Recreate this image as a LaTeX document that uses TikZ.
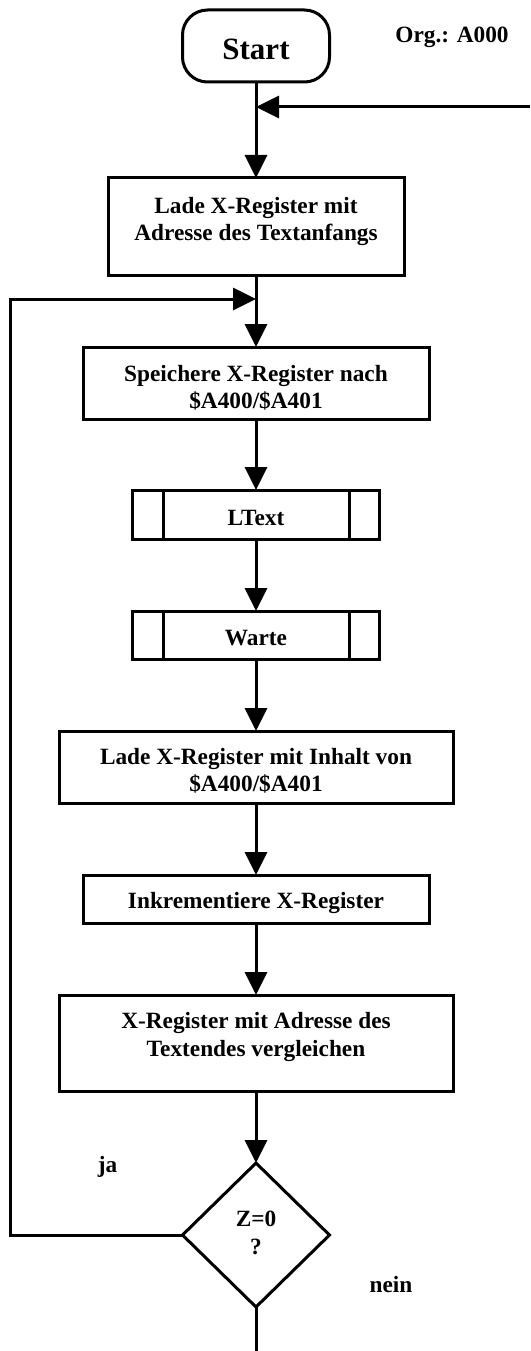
\documentclass[tikz,border=0pt]{standalone}
\usepackage{fontspec}
\setmainfont{Liberation Serif}
\usetikzlibrary{arrows.meta,shapes.geometric}
\begin{document}
\begin{tikzpicture}[x=1pt,y=1pt,
  every node/.style={font=\fontsize{23.3}{27.5}\selectfont\bfseries},
  box/.style={draw,line width=3pt,rectangle,inner sep=0pt,outer sep=0pt},
  txt/.style={align=center,inner sep=0pt},
  ln/.style={line width=3pt},
  arr/.style={line width=3pt,-{Triangle[length=23pt,width=22pt]}}
]
\useasboundingbox (0,0) rectangle (530,-1351);
\node[box, rounded corners=25pt, minimum width=147pt, minimum height=72pt] (start) at (256,-46) {};
\node[txt, font=\fontsize{31}{36}\selectfont\bfseries, anchor=base] (tstart) at (256,-60) {Start};
\node[txt, anchor=base] (org) at (452,-42.7) {Org.: A000};
\coordinate (rin) at (530,-107);
\node[box, minimum width=296pt, minimum height=97pt] (b1) at (256,-226.5) {};
\node[txt] (t1) at (256,-221.5) {Lade X-Register mit\\Adresse des Textanfangs};
\coordinate (lc) at (10,-299);
\node[box, minimum width=346pt, minimum height=72pt] (b2) at (256,-383) {};
\node[txt] (t2) at (256,-387.8) {Speichere X-Register nach\\\$A400/\$A401};
\node[box, minimum width=247pt, minimum height=49pt] (lt) at (256,-514.5) {};
\node[txt, anchor=base] (tlt) at (256,-525) {LText};
\node[box, minimum width=247pt, minimum height=48pt] (wa) at (256,-635) {};
\node[txt, anchor=base] (twa) at (256,-645) {Warte};
\node[box, minimum width=394pt, minimum height=72pt] (b3) at (256,-767) {};
\node[txt] (t3) at (256,-771) {Lade X-Register mit Inhalt von\\\$A400/\$A401};
\node[box, minimum width=346pt, minimum height=48pt] (b4) at (256,-899) {};
\node[txt, anchor=base] (t4) at (256,-908.3) {Inkrementiere X-Register};
\node[box, minimum width=394pt, minimum height=96pt] (b5) at (256,-1043) {};
\node[txt] (t5) at (256,-1037) {X-Register mit Adresse des\\Textendes vergleichen};
\node[box, shape=diamond, minimum width=147pt, minimum height=144pt] (d) at (256,-1235) {};
\node[txt] (td) at (256,-1233) {Z=0\\?};
\node[txt, anchor=base] (ja) at (107.5,-1172) {ja};
\node[txt, anchor=base] (nein) at (391,-1292) {nein};
\coordinate (bot) at (256,-1351);
\foreach \n in {lt,wa} {
  \draw[ln] ([xshift=31pt]\n.north west) -- ([xshift=31pt]\n.south west);
  \draw[ln] ([xshift=-30pt]\n.north east) -- ([xshift=-30pt]\n.south east);
}
\draw[arr] (start.south) -- (b1.north);
\draw[arr] (rin) -- (start.south |- rin);
\draw[arr] (b1.south) -- (b2.north);
\draw[arr] (d.west) -| (lc) -- (b1.south |- lc);
\draw[arr] (b2.south) -- (lt.north);
\draw[arr] (lt.south) -- (wa.north);
\draw[arr] (wa.south) -- (b3.north);
\draw[arr] (b3.south) -- (b4.north);
\draw[arr] (b4.south) -- (b5.north);
\draw[arr] (b5.south) -- (d.north);
\draw[ln] (d.south) -- (bot);
\end{tikzpicture}
\end{document}
